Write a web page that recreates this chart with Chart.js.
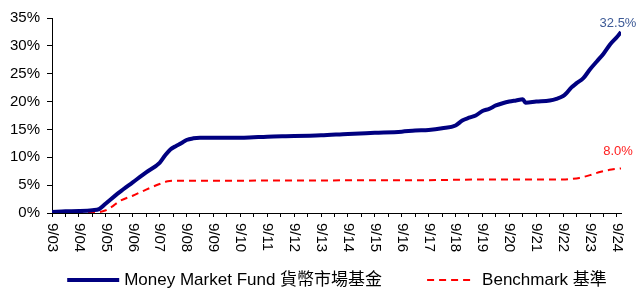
<!DOCTYPE html>
<html>
<head>
<meta charset="utf-8">
<script src="https://cdn.jsdelivr.net/npm/chart.js@4"></script>
<style>
  html, body { margin: 0; padding: 0; background: #fff; }
  #wrap { width: 639px; height: 291px; position: relative; }
</style>
</head>
<body>
<div id="wrap"><canvas id="mmfChart"></canvas></div>
<script>
// ─── Data (x = years since 9/03) ─────────────────────
const fundYears = [0, 0.5, 1, 1.5, 1.75, 2, 2.5, 3, 3.5, 4, 4.2, 4.4, 4.6, 4.8, 5, 5.25, 5.5,
    6, 7, 7.5, 8, 9, 10, 11, 12, 13, 13.5, 14, 14.5, 15, 15.25, 15.5, 15.75, 16, 16.25, 16.5, 16.75,
    17, 17.25, 17.5, 17.6, 18, 18.5, 18.75, 19, 19.1, 19.3, 19.5, 19.75, 20, 20.25, 20.5, 20.75, 21, 21.15];
const fundValues = [0.2, 0.3, 0.35, 0.5, 0.7, 1.7, 3.7, 5.5, 7.3, 9.0, 10.3, 11.4, 12.0, 12.5, 13.1, 13.4, 13.5,
    13.5, 13.5, 13.6, 13.7, 13.8, 13.95, 14.2, 14.4, 14.6, 14.8, 14.9, 15.2, 15.7, 16.6, 17.1, 17.5, 18.3, 18.7, 19.3, 19.7,
    20.0, 20.2, 20.4, 19.8, 20.0, 20.2, 20.5, 21.0, 21.4, 22.5, 23.3, 24.2, 25.8, 27.2, 28.6, 30.3, 31.6, 32.5];

const benchYears = [0, 1, 1.7, 2, 2.25, 2.5, 3, 3.5, 4, 4.3, 4.6, 6, 10, 14, 16, 19, 19.3, 19.6, 20, 20.4, 20.8, 21.15];
const benchValues = [0.05, 0.1, 0.15, 0.5, 1.2, 2.1, 3.1, 4.2, 5.2, 5.7, 5.8, 5.8, 5.85, 5.9, 6.0, 6.0, 6.1, 6.3, 6.8, 7.4, 7.8, 8.0];

const seriesNames = ['Money Market Fund 貨幣市場基金', 'Benchmark 基準'];
const yTicks = [0, 5, 10, 15, 20, 25, 30, 35];
const xLabelYears = [3, 4, 5, 6, 7, 8, 9, 10, 11, 12, 13, 14, 15, 16, 17, 18, 19, 20, 21, 22, 23, 24];

const FONT = '"Liberation Sans", Arial, "Noto Sans CJK TC", sans-serif';
const NAVY = '#000080';
const RED = '#ff0000';

const toPoints = (xs, ys) => xs.map((x, i) => ({ x: x, y: ys[i] }));

// rotated (top-to-bottom) x labels
const xLabelPlugin = {
    id: 'xLabels',
    afterDraw(chart) {
        const sx = chart.scales.x, ctx = chart.ctx;
        ctx.save();
        ctx.font = '15px ' + FONT;
        ctx.fillStyle = '#000';
        ctx.textAlign = 'left';
        ctx.textBaseline = 'middle';
        xLabelYears.forEach((yr, i) => {
            const px = sx.getPixelForValue(i);
            ctx.save();
            ctx.translate(px, sx.top + 10);
            ctx.rotate(Math.PI / 2);
            ctx.fillText('9/' + String(yr).padStart(2, '0'), 0, 0);
            ctx.restore();
        });
        ctx.restore();
    }
};

// value tags on last points
const endLabelPlugin = {
    id: 'endLabels',
    afterDatasetsDraw(chart) {
        const ctx = chart.ctx;
        const cfg = [{ color: '#3d5a96', dy: -9 }, { color: '#ff2020', dy: -17 }];
        ctx.save();
        ctx.font = '13px ' + FONT;
        ctx.textAlign = 'center';
        ctx.textBaseline = 'middle';
        chart.data.datasets.forEach((ds, i) => {
            const pts = chart.getDatasetMeta(i).data;
            const last = pts[pts.length - 1];
            ctx.fillStyle = cfg[i].color;
            ctx.fillText(ds.data[ds.data.length - 1].y.toFixed(1) + '%', last.x - 3, last.y + cfg[i].dy);
        });
        ctx.restore();
    }
};

// bottom legend
const legendPlugin = {
    id: 'bottomLegend',
    afterDraw(chart) {
        const ctx = chart.ctx;
        const y = 280;
        ctx.save();
        ctx.font = '17px ' + FONT;
        ctx.textBaseline = 'middle';
        const w1 = ctx.measureText(seriesNames[0]).width;
        const w2 = ctx.measureText(seriesNames[1]).width;
        const total = 52 + 5 + w1 + 45 + 47 + 8 + w2;
        let x = 337 - total / 2;
        const ds = chart.data.datasets;

        ctx.strokeStyle = ds[0].borderColor;
        ctx.lineWidth = ds[0].borderWidth;
        ctx.beginPath(); ctx.moveTo(x, y); ctx.lineTo(x + 52, y); ctx.stroke();
        x += 57;
        ctx.fillStyle = '#000';
        ctx.fillText(seriesNames[0], x, y);
        x += w1 + 45;

        ctx.strokeStyle = ds[1].borderColor;
        ctx.lineWidth = ds[1].borderWidth;
        ctx.setLineDash(ds[1].borderDash);
        ctx.beginPath(); ctx.moveTo(x, y); ctx.lineTo(x + 47, y); ctx.stroke();
        ctx.setLineDash([]);
        x += 55;
        ctx.fillText(seriesNames[1], x, y);
        ctx.restore();
    }
};

new Chart(document.getElementById('mmfChart'), {
    type: 'line',
    data: {
        datasets: [{
            label: seriesNames[0],
            data: toPoints(fundYears, fundValues),
            borderColor: NAVY,
            borderWidth: 4,
            pointRadius: 0,
            cubicInterpolationMode: 'monotone',
            fill: false
        }, {
            label: seriesNames[1],
            data: toPoints(benchYears, benchValues),
            borderColor: RED,
            borderWidth: 2,
            borderDash: [7, 5],
            pointRadius: 0,
            cubicInterpolationMode: 'monotone',
            fill: false
        }]
    },
    options: {
        responsive: true,
        maintainAspectRatio: false,
        animation: false,
        layout: { padding: { left: 0, right: 18, top: 18, bottom: 38 } },
        plugins: {
            legend: { display: false },
            tooltip: { enabled: false }
        },
        scales: {
            x: {
                type: 'linear',
                min: 0,
                max: 21.15,
                afterBuildTicks(scale) {
                    const t = [];
                    for (let v = 0; v <= 21; v += 0.5) t.push({ value: v });
                    scale.ticks = t;
                },
                afterFit(scale) { scale.height = 40; },
                border: { color: '#000', width: 1 },
                grid: { drawOnChartArea: false, drawTicks: true, tickLength: 4, color: '#000' },
                ticks: { display: false, autoSkip: false }
            },
            y: {
                min: 0,
                max: 35,
                afterBuildTicks(scale) { scale.ticks = yTicks.map(v => ({ value: v })); },
                afterFit(scale) { scale.width = 52; },
                border: { color: '#000', width: 1 },
                grid: { drawOnChartArea: false, drawTicks: true, tickLength: 5, color: '#000' },
                ticks: {
                    color: '#000',
                    padding: 7,
                    font: { family: FONT, size: 15 },
                    callback: v => v + '%'
                }
            }
        }
    },
    plugins: [xLabelPlugin, endLabelPlugin, legendPlugin]
});
</script>
</body>
</html>
